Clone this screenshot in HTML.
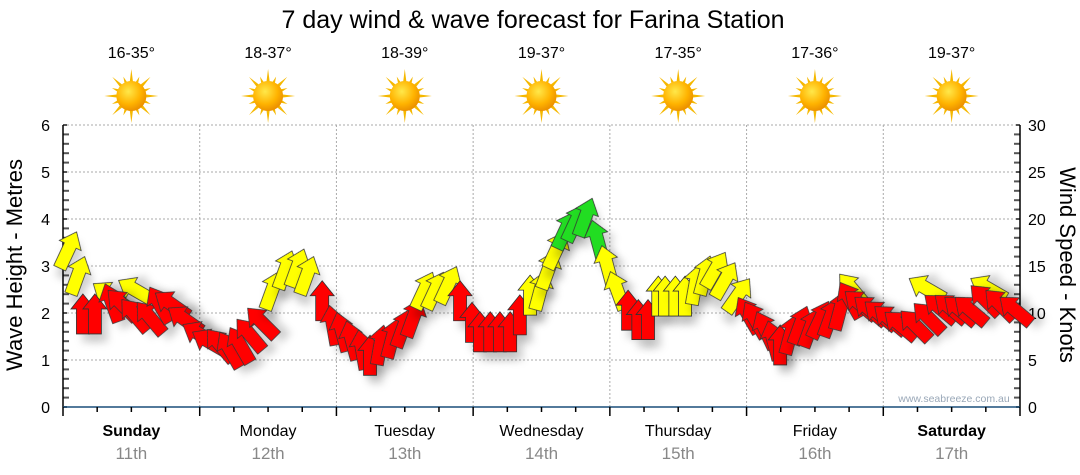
<!DOCTYPE html>
<html><head><meta charset="utf-8"><style>
body{margin:0;background:#fff;}
svg{display:block;font-family:"Liberation Sans",sans-serif;}
</style></head><body>
<svg id="chart" width="1080" height="475" viewBox="0 0 1080 475">
<defs>
<filter id="sh" x="-50%" y="-50%" width="200%" height="200%"><feDropShadow dx="6" dy="8" stdDeviation="4" flood-color="#000" flood-opacity="0.18"/></filter>
<radialGradient id="sunG" cx="0.4" cy="0.35" r="0.7"><stop offset="0" stop-color="#ffe84a"/><stop offset="0.6" stop-color="#ffb300"/><stop offset="1" stop-color="#e88a00"/></radialGradient>
</defs>
<text x="533" y="28" font-size="25" text-anchor="middle" fill="#000">7 day wind &amp; wave forecast for Farina Station</text>
<g id="grid"></g>
<g id="axes"></g>
<g id="days"></g>
<g id="arrows"></g>
<text x="954" y="402" font-size="10.5" fill="#9aa8b8" text-anchor="middle">www.seabreeze.com.au</text>
<text transform="translate(22,265) rotate(-90)" font-size="22" text-anchor="middle" fill="#000">Wave Height - Metres</text>
<text transform="translate(1060,265) rotate(90)" font-size="22" text-anchor="middle" fill="#000">Wind Speed - Knots</text>
</svg>
<script>
const dayNames=["Sunday","Monday","Tuesday","Wednesday","Thursday","Friday","Saturday"];
const dayDates=["11th","12th","13th","14th","15th","16th","17th"];
const tempRanges=["16-35°","18-37°","18-39°","19-37°","17-35°","17-36°","19-37°"];
const waveTicks=[0,1,2,3,4,5,6];
const windTicks=[0,5,10,15,20,25,30];
const hours=[0.9,2.6,3.5,5.6,8.6,10.4,12.6,15.3,17,19.1,21.4,24.1,
25.8,27.6,29.3,31.1,32.8,34.9,36.7,39,41.1,42.8,45.5,47.4,
49,50.7,52.5,53.9,55.7,57.8,59.7,61.5,63.4,65.3,67.6,69.7,
71.8,73.2,75,76.7,78.5,80.2,82,83.8,85.2,86.6,88.2,89.9,91.7,93.8,95.5,97.3,
99.2,101,102.7,104.5,105.7,107.5,109.2,111,112.7,114.5,116.2,118.5,
120.3,121.5,123.3,124.7,125.9,127.7,129.4,131.2,132.9,134.7,136.4,138.2,140,141.7,143.5,
145.2,147,149.6,151.9,154,155.8,157.5,159.3,161.9,164.5,167.2];
const windSpeed=[16.7,14,9.9,9.9,11.1,10.9,9.8,9.5,10.9,10.9,9.3,7.7,
6.9,6.6,6.1,6.6,7.7,9,12.4,14.6,14.8,14,11.3,8.7,
8,7.1,6.1,5.5,6.6,7.3,8.4,9.5,12.4,12.4,13,11.3,
9,8,8,8,8,9.8,11.9,12.4,14.6,16.7,18.8,19.6,20.2,17.8,15.1,12.4,
10.3,9.3,9.3,11.8,11.8,11.8,11.8,13,14,14.6,13.5,11.9,
9.8,9.3,8.2,7.1,6.6,7.7,8.7,8.4,9.3,9.5,10.3,11.4,10.9,10.3,9.8,
9.3,8.7,8.7,9.5,10.5,10.5,10.3,10.3,11.4,10.9,10.3];
const arrowBearing=[25,20,0,0,-20,-45,-40,-40,-30,-55,-55,-60,
-60,-40,-30,-30,-40,-45,20,20,20,20,0,-10,
-15,-15,-10,0,10,15,20,20,25,25,25,0,
0,0,0,0,0,0,0,15,20,25,25,25,20,-15,-15,-20,
0,0,0,0,0,0,0,10,15,30,30,35,
-30,-30,-25,-15,0,15,20,20,25,20,15,-30,-50,-50,-50,
-50,-50,-45,-45,-50,-50,-50,-50,-45,-45,-50];
const gustHours=[8.2,12.8,138.6,151.6,162.4];
const gustSpeed=[11.9,12.4,12.5,12.6,12.6];
const gustBearing=[-55,-60,-40,-60,-60];

const NS="http://www.w3.org/2000/svg";
const X0=63,X1=1020,Y0=407,Y1=125,DAYW=(X1-X0)/7;
const xH=h=>X0+h/168*(X1-X0);
const yWave=v=>Y0-v/6*(Y0-Y1);
const yWind=v=>Y0-v/30*(Y0-Y1);
function mk(tag,attrs,parent){const e=document.createElementNS(NS,tag);for(const k in attrs)e.setAttribute(k,attrs[k]);parent.appendChild(e);return e;}
const grid=document.getElementById('grid'),axes=document.getElementById('axes'),days=document.getElementById('days'),arrows=document.getElementById('arrows');

waveTicks.forEach(v=>{ if(v>0){const l=mk('line',{x1:X0,x2:X1,y1:yWave(v),y2:yWave(v),stroke:'#aaa','stroke-dasharray':'2,2'},grid);

}
 const t=mk('text',{x:50,y:yWave(v)+6,'font-size':16,'text-anchor':'end',fill:'#000'},axes);t.textContent=v;
 
 
});
windTicks.forEach(v=>{const t=mk('text',{x:1028,y:yWind(v)+6,'font-size':16,fill:'#000'},axes);t.textContent=v;
 
 
});
for(let i=0;i<=30;i++){const y=Y0-i*(Y0-Y1)/30;const big=i%5==0;
 mk('line',{x1:X0,x2:X0+(big?4:6),y1:y,y2:y,stroke:'#555','stroke-width':2},axes);
 mk('line',{x1:X1,x2:X1-(big?4:6),y1:y,y2:y,stroke:'#555','stroke-width':2},axes);
}
mk('line',{x1:X0,x2:X0,y1:Y1,y2:Y0,stroke:'#000','stroke-width':1.5},axes);
mk('line',{x1:X1,x2:X1,y1:Y1,y2:Y0,stroke:'#000','stroke-width':1.5},axes);
mk('line',{x1:X0,x2:X1,y1:Y0,y2:Y0,stroke:'#1a4f7a','stroke-width':1.5},axes);
for(let h=0;h<=168;h+=6){const x=xH(h);mk('line',{x1:x,x2:x,y1:Y0,y2:Y0+(h%24==0?9:5),stroke:'#000','stroke-width':1.5},axes);}

dayNames.forEach((d,i)=>{const cx=X0+DAYW*(i+0.5);
 if(i>0){const l=mk('line',{x1:X0+DAYW*i,x2:X0+DAYW*i,y1:Y1,y2:Y0,stroke:'#aaa','stroke-dasharray':'2,2'},grid);
 
 }
 const bold=(i==0||i==6);
 const t=mk('text',{x:cx,y:436,'font-size':16,'text-anchor':'middle',fill:'#000','font-weight':bold?'bold':'normal'},days);t.textContent=d;
 
 
 const t2=mk('text',{x:cx,y:459,'font-size':17,'text-anchor':'middle',fill:'#888'},days);t2.textContent=dayDates[i];
 
 
 const t3=mk('text',{x:cx,y:58,'font-size':16,'text-anchor':'middle',fill:'#000'},days);t3.textContent=tempRanges[i];
 
 
 const g=mk('g',{transform:`translate(${cx},96)`},days);
 
 
 for(let k=0;k<16;k++){const a=k*Math.PI/8;const r=(k%2==0)?27:21;const w=0.16;
  mk('polygon',{points:`${r*Math.sin(a)},${-r*Math.cos(a)} ${12*Math.sin(a+w)},${-12*Math.cos(a+w)} ${12*Math.sin(a-w)},${-12*Math.cos(a-w)}`,fill:'#f5b800'},g);}
 mk('circle',{cx:0,cy:0,r:15,fill:'url(#sunG)'},g);
});

const shape="0,-20 12,-5 6.5,-5 6.5,20 -6.5,20 -6.5,-5 -12,-5";
function col(s){return s>=17.5?'#22dd22':(s>=11.5?'#ffff00':'#ff0000');}
gustHours.forEach((h,i)=>{const p=mk('polygon',{points:shape,fill:'#ffff00',stroke:'#333','stroke-width':0.8,filter:'url(#sh)',transform:`translate(${xH(h)},${yWind(gustSpeed[i])}) rotate(${gustBearing[i]})`},arrows);
 
 
});
hours.forEach((h,i)=>{const p=mk('polygon',{points:shape,fill:col(windSpeed[i]),stroke:'#333','stroke-width':0.8,filter:'url(#sh)',transform:`translate(${xH(h)},${yWind(windSpeed[i])}) rotate(${arrowBearing[i]})`},arrows);
 
 
});
</script>
</body></html>
